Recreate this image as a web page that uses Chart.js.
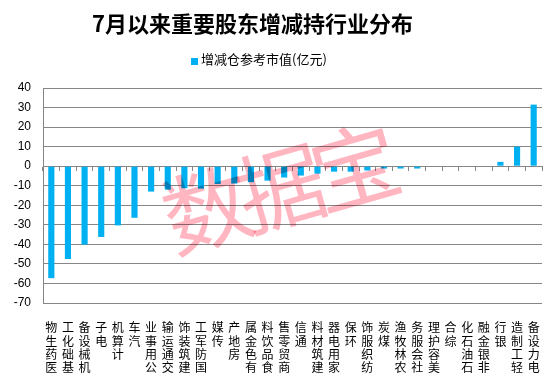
<!DOCTYPE html>
<html>
<head>
<meta charset="utf-8">
<script src="https://cdn.jsdelivr.net/npm/chart.js@4"></script>
<style>
  body { margin: 0; background: #fff; }
</style>
</head>
<body>
<canvas id="industryChart" width="558" height="376"></canvas>
<script>
const chartTitle = '7月以来重要股东增减持行业分布';
const seriesName = '增减仓参考市值(亿元)';

const categories = [
    '医药生物', '基础化工', '机械设备', '电子', '计算机', '汽车', '公用事业', '交通运输',
    '建筑装饰', '国防军工', '传媒', '房地产', '有色金属', '食品饮料', '商贸零售', '通信',
    '建筑材料', '家用电器', '环保', '纺织服饰', '煤炭', '农林牧渔', '社会服务', '美容护理',
    '综合', '石油石化', '非银金融', '银行', '轻工制造', '电力设备'
];

const values = [
    -57.3, -47.5, -40.1, -36.2, -30.3, -26.4, -13.0, -12.0,
    -11.3, -11.5, -9.1, -8.9, -8.2, -7.4, -5.8, -4.8,
    -3.8, -2.8, -2.8, -2.2, -1.2, -1.2, -1.2, 0,
    0, 0, 0, 2.2, 10.0, 31.5
];

const yMin = -70;
const yMax = 40;
const yStep = 10;

const watermark = '数据宝';
const barColor = '#00B0F0';
const gridColor = '#868686';
const cjkFont = '"Noto Sans CJK SC", "Liberation Sans", sans-serif';

// vertical stacked labels, read bottom to top
const stackedLabels = categories.map(c => c.split('').reverse());

// title, legend and watermark drawn by hand
const decorPlugin = {
    id: 'decor',
    beforeDraw(chart) {
        const ctx = chart.ctx;
        ctx.save();
        ctx.fillStyle = '#fff';
        ctx.fillRect(0, 0, chart.width, chart.height);
        ctx.restore();
    },
    afterDatasetsDraw(chart) {
        const ctx = chart.ctx;
        ctx.save();
        ctx.globalCompositeOperation = 'multiply';
        ctx.translate(281, 188);
        ctx.rotate(-16 * Math.PI / 180);
        ctx.font = '88px ' + cjkFont;
        ctx.fillStyle = 'rgb(255, 182, 193)';
        ctx.textAlign = 'center';
        ctx.textBaseline = 'middle';
        const chars = watermark.split('');
        chars.forEach((ch, i) => {
            ctx.fillText(ch, (i - 1) * 77, 0);
        });
        ctx.restore();
    },
    afterDraw(chart) {
        const ctx = chart.ctx;
        ctx.save();
        ctx.fillStyle = '#000';
        ctx.font = 'bold 22px ' + cjkFont;
        ctx.textAlign = 'center';
        ctx.textBaseline = 'middle';
        ctx.fillText(chartTitle, 252.5, 24);

        ctx.fillStyle = barColor;
        ctx.fillRect(191, 58, 7, 7);
        ctx.fillStyle = '#000';
        ctx.font = '13px ' + cjkFont;
        ctx.textAlign = 'left';
        ctx.fillText(seriesName, 201, 59.5);
        ctx.restore();
    }
};

new Chart(document.getElementById('industryChart'), {
    type: 'bar',
    data: {
        labels: stackedLabels,
        datasets: [{
            label: seriesName,
            data: values,
            backgroundColor: barColor,
            borderWidth: 0,
            barPercentage: 0.37,
            categoryPercentage: 1.0
        }]
    },
    options: {
        responsive: false,
        animation: false,
        devicePixelRatio: 1,
        layout: {
            padding: { top: 88, right: 16, left: 0, bottom: 0 }
        },
        plugins: {
            legend: { display: false },
            title: { display: false },
            tooltip: { enabled: false }
        },
        scales: {
            x: {
                type: 'category',
                position: 'bottom',
                offset: true,
                grid: { display: false, offset: true },
                border: { display: false },
                ticks: {
                    autoSkip: false,
                    maxRotation: 0,
                    minRotation: 0,
                    padding: 10,
                    color: '#000',
                    font: { size: 12, family: cjkFont, lineHeight: 1.11 }
                },
                afterFit: s => { s.height = 73; }
            },
            x0: {
                type: 'category',
                position: { y: 0 },
                offset: true,
                grid: {
                    offset: true,
                    drawOnChartArea: false,
                    drawTicks: true,
                    tickLength: 4,
                    color: gridColor
                },
                border: { color: gridColor, width: 1 },
                ticks: { display: false }
            },
            y: {
                min: yMin,
                max: yMax,
                grid: { color: gridColor, drawTicks: false },
                border: { color: gridColor },
                ticks: {
                    stepSize: yStep,
                    padding: 12,
                    color: '#000',
                    font: { size: 12, family: '"Liberation Sans", sans-serif' }
                },
                afterFit: s => { s.width = 43; }
            }
        }
    },
    plugins: [decorPlugin]
});
</script>
</body>
</html>
